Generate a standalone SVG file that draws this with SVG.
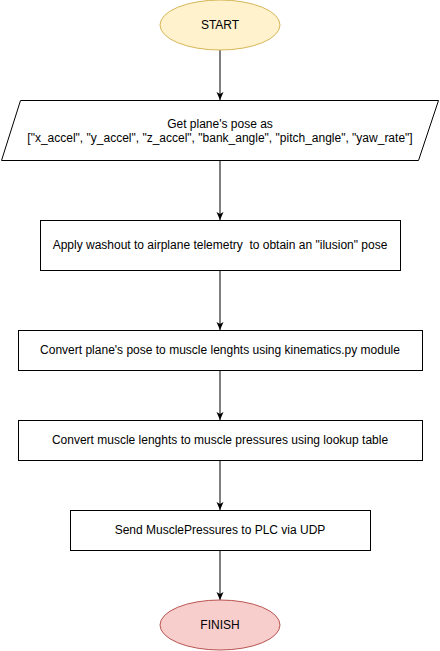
<svg xmlns="http://www.w3.org/2000/svg" width="440" height="651" viewBox="0 0 440 651">
<style>
text{font-family:"Liberation Sans",Arial,Helvetica,sans-serif;font-size:12px;fill:#000;text-anchor:middle;dominant-baseline:central;white-space:pre}
.box{fill:#fff;stroke:#000;stroke-width:1}
.edge{fill:none;stroke:#000;stroke-width:1}
</style>
<defs>
<marker id="arr" viewBox="0 0 8 8" markerWidth="8" markerHeight="8" refX="8" refY="4" orient="auto" markerUnits="userSpaceOnUse">
<path d="M0,0.5 L8,4 L0,7.5 L2,4 Z" fill="#000" stroke="none"/>
</marker>
</defs>
<rect width="440" height="651" fill="#fff"/>
<g id="connectors">
<path class="edge" d="M220,50 V100" marker-end="url(#arr)"/>
<path class="edge" d="M220,160 V220" marker-end="url(#arr)"/>
<path class="edge" d="M220,270 V330" marker-end="url(#arr)"/>
<path class="edge" d="M220,370 V420" marker-end="url(#arr)"/>
<path class="edge" d="M220,460 V510" marker-end="url(#arr)"/>
<path class="edge" d="M220,550 V600" marker-end="url(#arr)"/>
</g>
<g id="start">
<ellipse cx="220" cy="25" rx="60" ry="25" fill="#fff2cc" stroke="#d6b656"/>
<text x="220" y="25">START</text>
</g>
<g id="get-pose">
<polygon class="box" points="20.5,100.5 438.5,100.5 418.5,160.5 1.5,160.5"/>
<text x="220" y="124">Get plane's pose as</text>
<text x="220" y="138">["x_accel", "y_accel", "z_accel", "bank_angle", "pitch_angle", "yaw_rate"]</text>
</g>
<g id="washout">
<rect class="box" x="40.5" y="220.5" width="360" height="50"/>
<text x="220" y="245" xml:space="preserve">Apply washout to airplane telemetry  to obtain an "ilusion" pose</text>
</g>
<g id="kinematics">
<rect class="box" x="18.5" y="330.5" width="404" height="40"/>
<text x="220" y="350">Convert plane's pose to muscle lenghts using kinematics.py module</text>
</g>
<g id="lookup">
<rect class="box" x="18.5" y="420.5" width="404" height="40"/>
<text x="220" y="440">Convert muscle lenghts to muscle pressures using lookup table</text>
</g>
<g id="send">
<rect class="box" x="70.5" y="510.5" width="300" height="40"/>
<text x="220" y="530">Send MusclePressures to PLC via UDP</text>
</g>
<g id="finish">
<ellipse cx="220" cy="625" rx="60" ry="25" fill="#f8cecc" stroke="#b85450"/>
<text x="220" y="625">FINISH</text>
</g>
</svg>
